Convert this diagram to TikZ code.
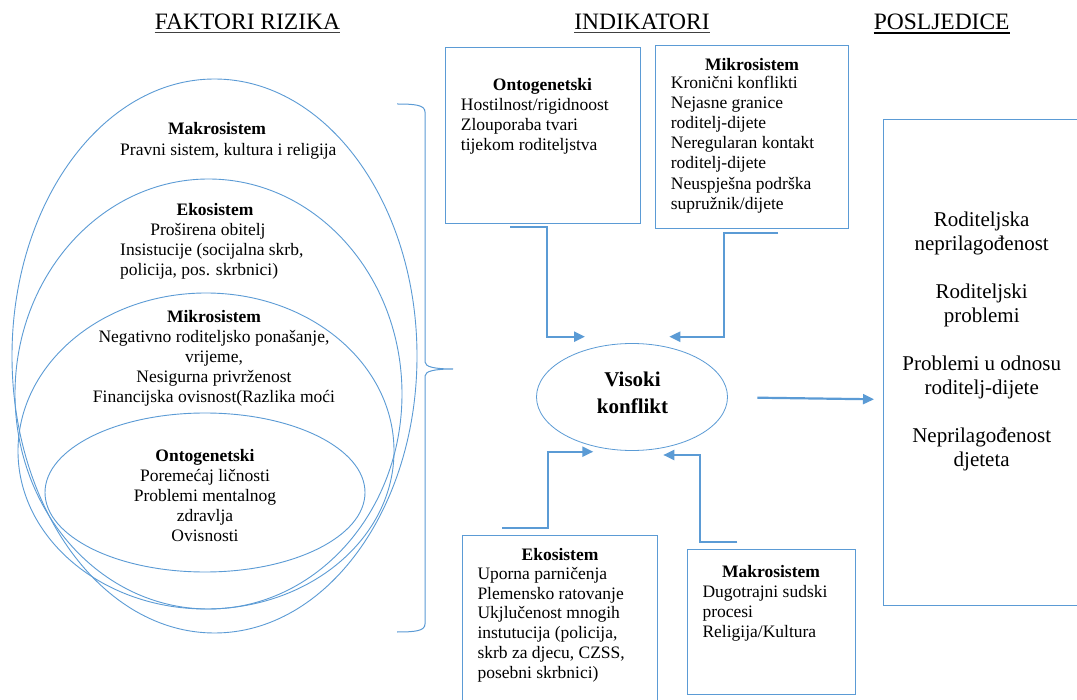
\documentclass[tikz,border=0pt]{standalone}
\usepackage{fontspec}
\setmainfont{Liberation Serif}
\usetikzlibrary{shapes.geometric,arrows.meta}
\definecolor{lineblue}{HTML}{5B9BD5}
\newcommand\myBody{\fontsize{17.5pt}{20pt}\selectfont}
\newcommand\myBig{\fontsize{21pt}{24pt}\selectfont}
\newcommand\myTitle{\fontsize{23.5pt}{26pt}\selectfont}
\tikzset{
  ell/.style={ellipse, draw=lineblue, line width=0.9pt, inner sep=0pt},
  boxr/.style={rectangle, draw=lineblue, line width=1pt, inner sep=0pt},
  tl/.style={inner sep=0pt, font=\myBody, anchor=base west},
  tc/.style={inner sep=0pt, font=\myBody, anchor=base},
  hd/.style={inner sep=0pt, font=\myBody\bfseries, anchor=base},
  tbig/.style={inner sep=0pt, font=\myBig, anchor=base},
  ttl/.style={inner sep=0pt, font=\myTitle, anchor=base},
  arr/.style={draw=lineblue, line width=2.2pt, line join=miter, -{Triangle[length=11pt,width=10pt]}},
  ul/.style={line width=1.3pt, black!75},
}
\begin{document}
\begin{tikzpicture}[x=1pt,y=-1pt]
\useasboundingbox (0,0) rectangle (1077,700);
\clip (0,0) rectangle (1077,700);
\fill[white] (0,0) rectangle (1077,700);

% titles
\node[ttl] (tF) at (247.5,29.3) {FAKTORI RIZIKA};
\node[ttl] (tI) at (642,29.3) {INDIKATORI};
\node[ttl] (tP) at (941.7,29.3) {POSLJEDICE};
\draw[ul] ([yshift=-3.2pt]tF.base west) -- ([yshift=-3.2pt]tF.base east);
\draw[ul] ([yshift=-3.2pt]tI.base west) -- ([yshift=-3.2pt]tI.base east);
\draw[line width=2pt, black] ([yshift=-3.4pt]tP.base west) -- ([yshift=-3.4pt]tP.base east);

% nested ellipses
\node[ell, minimum width=405, minimum height=554] (eMakro) at (214.5,356) {};
\node[ell, minimum width=387, minimum height=430] (eEko) at (208.5,394) {};
\node[ell, minimum width=376, minimum height=316] (eMikro) at (206,451) {};
\node[ell, minimum width=320, minimum height=159] (eOnto) at (205,492.5) {};

\node[hd] (mkH) at (217,135) {Makrosistem};
\node[tl] (mk1) at (120,155.5) {Pravni sistem, kultura i religija};

\node[hd] (ekH) at (215,215.5) {Ekosistem};
\node[tc] (ek1) at (208,235.5) {Proširena obitelj};
\node[tl] (ek2) at (120,255.5) {Insistucije (socijalna skrb,};
\node[tl] (ek3) at (120,276) {policija, pos. skrbnici)};

\node[hd] (miH) at (214,322.5) {Mikrosistem};
\node[tc] (mi1) at (214,342.5) {Negativno roditeljsko ponašanje,};
\node[tc] (mi2) at (214,362.5) {vrijeme,};
\node[tc] (mi3) at (214,382.5) {Nesigurna privrženost};
\node[tc] (mi4) at (214,402.5) {Financijska ovisnost(Razlika moći};

\node[hd] (onH) at (205,461.5) {Ontogenetski};
\node[tc] (on1) at (205,481.5) {Poremećaj ličnosti};
\node[tc] (on2) at (205,501.5) {Problemi mentalnog};
\node[tc] (on3) at (205,521.5) {zdravlja};
\node[tc] (on4) at (205,541.5) {Ovisnosti};

% brace
\draw[lineblue, line width=1pt] (397,104) .. controls (415,104) and (425,105) .. (425,112)
  -- (425,362) .. controls (425,367) and (435,369) .. (453,369)
  .. controls (435,369) and (425,371) .. (425,376)
  -- (425,624) .. controls (425,631) and (415,632) .. (397,632);

% indicator boxes
\node[boxr, minimum width=195, minimum height=176] (bOnto) at (543.2,135.3) {};
\node[hd] (bOntoH) at (542.5,90.5) {Ontogenetski};
\node[tl] (bOnto1) at (460.7,110.5) {Hostilnost/rigidnoost};
\node[tl] (bOnto2) at (460.7,130.5) {Zlouporaba tvari};
\node[tl] (bOnto3) at (460.7,150.5) {tijekom roditeljstva};

\node[boxr, minimum width=192.6, minimum height=183.3] (bMikro) at (752,137.35) {};
\node[hd] (bMikroH) at (752,70.5) {Mikrosistem};
\node[tl] (bMikro1) at (670.7,89) {Kronični konflikti};
\node[tl] (bMikro2) at (670.7,109) {Nejasne granice};
\node[tl] (bMikro3) at (670.7,129) {roditelj-dijete};
\node[tl] (bMikro4) at (670.7,149) {Neregularan kontakt};
\node[tl] (bMikro5) at (670.7,169) {roditelj-dijete};
\node[tl] (bMikro6) at (670.7,189.5) {Neuspješna podrška};
\node[tl] (bMikro7) at (670.7,210) {supružnik/dijete};

\node[boxr, minimum width=194.6, minimum height=177] (bEko) at (560,623.5) {};
\node[hd] (bEkoH) at (560,560) {Ekosistem};
\node[tl] (bEko1) at (477.3,579) {Uporna parničenja};
\node[tl] (bEko2) at (477.3,599) {Plemensko ratovanje};
\node[tl] (bEko3) at (477.3,618.5) {Ukjlučenost mnogih};
\node[tl] (bEko4) at (477.3,638.5) {instutucija (policija,};
\node[tl] (bEko5) at (477.3,658.5) {skrb za djecu, CZSS,};
\node[tl] (bEko6) at (477.3,678.5) {posebni skrbnici)};

\node[boxr, minimum width=168.4, minimum height=144.7] (bMakro) at (771.5,621.65) {};
\node[hd] (bMakroH) at (771,577) {Makrosistem};
\node[tl] (bMakro1) at (702.3,597) {Dugotrajni sudski};
\node[tl] (bMakro2) at (702.3,617) {procesi};
\node[tl] (bMakro3) at (702.3,637) {Religija/Kultura};

% central ellipse
\node[ell, line width=0.8pt, minimum width=191, minimum height=107] (vk) at (632,397) {};
\node[tbig, font=\myBig\bfseries] (vk1) at (632.5,387) {Visoki};
\node[tbig, font=\myBig\bfseries] (vk2) at (632.5,414) {konflikt};

% outcomes box
\node[boxr, minimum width=207, minimum height=485] (bPosl) at (986.5,362.5) {};
\node[tbig] (p1) at (981.7,227) {Roditeljska};
\node[tbig] (p2) at (981.7,250.5) {neprilagođenost};
\node[tbig] (p3) at (981.7,299) {Roditeljski};
\node[tbig] (p4) at (981.7,322.5) {problemi};
\node[tbig] (p5) at (981.7,371) {Problemi u odnosu};
\node[tbig] (p6) at (981.7,394.5) {roditelj-dijete};
\node[tbig] (p7) at (981.7,443) {Neprilagođenost};
\node[tbig] (p8) at (981.7,466.5) {djeteta};

% arrows
\coordinate (a1s) at (510,227.3);
\coordinate (a1k) at (547.3,336.7);
\coordinate (a1t) at (585,336.7);
\draw[arr] (a1s) -| (a1k) -- (a1t);

\coordinate (a2s) at (778,232.7);
\coordinate (a2k) at (724,336.7);
\coordinate (a2t) at (669.3,336.7);
\draw[arr] (a2s) -| (a2k) -- (a2t);

\coordinate (a3s) at (502.3,527.7);
\coordinate (a3k) at (547.7,451.7);
\coordinate (a3t) at (593.3,451.7);
\draw[arr] (a3s) -| (a3k) -- (a3t);

\coordinate (a4s) at (737.3,541.7);
\coordinate (a4k) at (700,455);
\coordinate (a4t) at (663.3,455);
\draw[arr] (a4s) -| (a4k) -- (a4t);

\coordinate (a5s) at (757.3,397.7);
\coordinate (a5t) at (874,399.3);
\draw[arr] (a5s) -- (a5t);
\end{tikzpicture}
\end{document}
